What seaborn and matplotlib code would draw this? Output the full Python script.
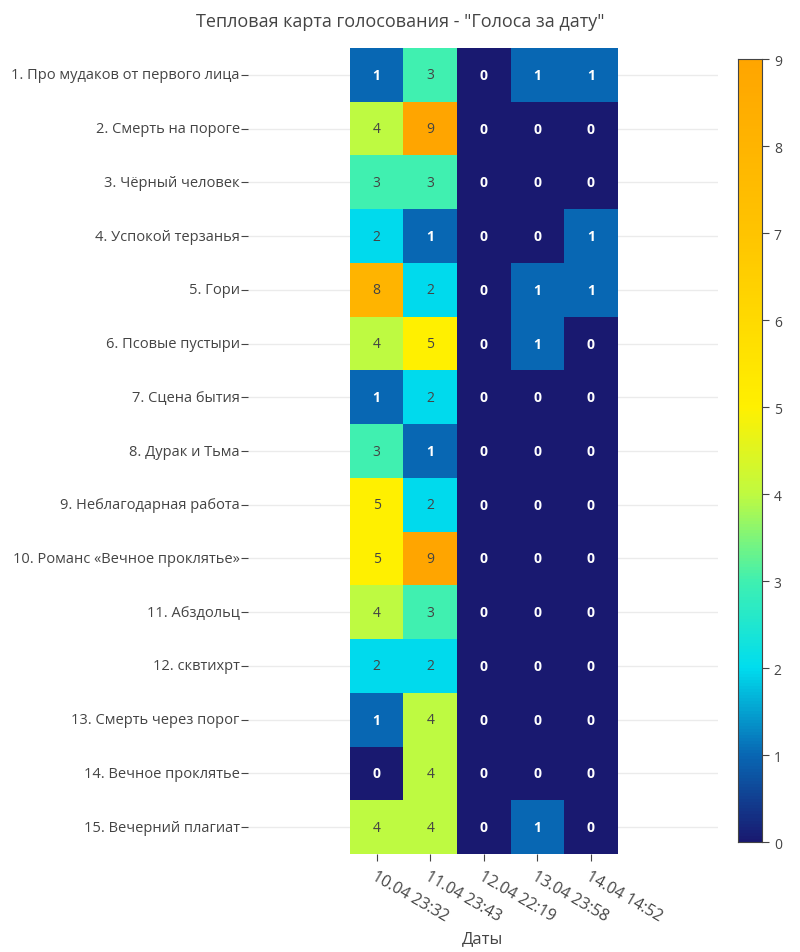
import numpy as np
import pandas as pd
import seaborn as sns
import matplotlib
matplotlib.use("Agg")
import matplotlib.pyplot as plt
from matplotlib.colors import LinearSegmentedColormap

plt.rcParams['font.family'] = ['Open Sans', 'DejaVu Sans']

songs = ["1. Про мудаков от первого лица", "2. Смерть на пороге", "3. Чёрный человек",
         "4. Успокой терзанья", "5. Гори", "6. Псовые пустыри", "7. Сцена бытия",
         "8. Дурак и Тьма", "9. Неблагодарная работа", "10. Романс «Вечное проклятье»",
         "11. Абздольц", "12. сквтихрт", "13. Смерть через порог", "14. Вечное проклятье",
         "15. Вечерний плагиат"]
dates = ["10.04 23:32", "11.04 23:43", "12.04 22:19", "13.04 23:58", "14.04 14:52"]
d1 = [1, 4, 3, 2, 8, 4, 1, 3, 5, 5, 4, 2, 1, 0, 4]
d2 = [3, 9, 3, 1, 2, 5, 2, 1, 2, 9, 3, 2, 4, 4, 4]
d3 = [0] * 15
d4 = [1, 0, 0, 0, 1, 1, 0, 0, 0, 0, 0, 0, 0, 0, 1]
d5 = [1, 0, 0, 1, 1, 0, 0, 0, 0, 0, 0, 0, 0, 0, 0]

df = pd.DataFrame({dates[0]: d1, dates[1]: d2, dates[2]: d3, dates[3]: d4, dates[4]: d5}, index=songs)

cmap = LinearSegmentedColormap.from_list("pj", [
    (0.0, "#191970"), (1/9, "#0868B4"), (2/9, "#00DDEE"), (3/9, "#40F0B0"),
    (4/9, "#C0FA40"), (5/9, "#FFF000"), (7/9, "#FFC400"), (1.0, "#FFA500")])

fig = plt.figure(figsize=(8, 9.53), dpi=100)
ax = fig.add_axes([0.31, 0.1028, 0.5875, 0.8458])
cax = fig.add_axes([0.9225, 0.1154, 0.03, 0.8216])

for i in range(15):
    ax.axhline(i + 0.5, color="#ebebeb", lw=1, zorder=0)

sns.heatmap(df, ax=ax, cmap=cmap, vmin=0, vmax=9, cbar_ax=cax, annot=False)
for i in range(15):
    for j in range(5):
        v = df.iloc[i, j]
        col = "white" if v <= 1 else "#444444"
        ax.text(j + 0.5, i + 0.5, str(v), ha="center", va="center", fontsize=10,
                color=col, fontweight="bold" if v <= 1 else "normal")

ax.set_xlim(-1.9, 6.87)
ax.set_ylim(15, 0)
for s in ax.spines.values():
    s.set_visible(False)
ax.set_yticks(np.arange(15) + 0.5)
ax.set_yticklabels(songs, fontsize=10.5, color="#444444")
ax.set_xticks(np.arange(5) + 0.5)
ax.set_xticklabels(dates, rotation=-30, ha="left", rotation_mode="anchor", fontsize=11.5, color="#444444")
ax.tick_params(axis="y", length=5, color="#444444", pad=1)
ax.tick_params(axis="x", length=5, color="#444444", pad=5)
ax.set_xlabel("Даты", fontsize=12, color="#444444")
ax.set_ylabel("")

cax.tick_params(labelsize=10, colors="#444444", length=5)
cax.set_yticks(range(10))
for s in cax.spines.values():
    s.set_visible(True)
    s.set_color("#444444")

fig.text(0.5, 0.977, 'Тепловая карта голосования - "Голоса за дату"', ha="center", va="center",
         fontsize=13, color="#444444")
fig.savefig("out.png", dpi=100)
